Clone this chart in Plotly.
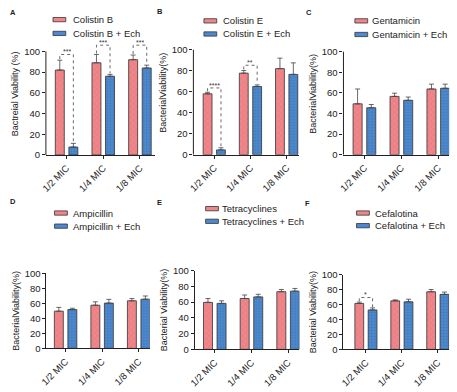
import plotly.graph_objects as go

# ---------------- data ----------------
categories = ["1/2 MIC", "1/4 MIC", "1/8 MIC"]

colistin_b = [82, 89, 92]
colistin_b_err = [9.5, 8, 4.5]
colistin_b_ech = [7.7, 76, 84]
colistin_b_ech_err = [3.5, 1.8, 2.7]

colistin_e = [58, 77.7, 82]
colistin_e_err = [1.5, 2.5, 10]
colistin_e_ech = [4.6, 65, 76.5]
colistin_e_ech_err = [2, 1.5, 11]

gentamicin = [49.4, 56.6, 63.8]
gentamicin_err = [14.4, 3.1, 4.7]
gentamicin_ech = [45.6, 52.8, 64.5]
gentamicin_ech_err = [3.1, 3.2, 4]

ampicillin = [49.6, 57.5, 63.4]
ampicillin_err = [5, 4.5, 3]
ampicillin_ech = [51.7, 60.3, 65.5]
ampicillin_ech_err = [1.8, 5, 4.3]

tetracyclines = [59.7, 64.6, 73.3]
tetracyclines_err = [4.9, 4.5, 2.8]
tetracyclines_ech = [58.4, 66.7, 74]
tetracyclines_ech_err = [3.3, 3.3, 3.4]

cefalotina = [61.7, 65.2, 77.4]
cefalotina_err = [1.8, 1.3, 3]
cefalotina_ech = [53, 63.9, 73.9]
cefalotina_ech_err = [2.7, 3.5, 3.1]

# significance: (group index, label, bracket height)
sig_a = [(0, "***", 97), (1, "***", 106), (2, "***", 106)]
sig_b = [(0, "****", 63.6), (1, "**", 85.2)]
sig_c = []
sig_d = []
sig_e = []
sig_f = [(0, "*", 69.7)]

y_ticks = [0, 20, 40, 60, 80, 100]

# ---------------- styling / layout config ----------------
W, H = 457, 392
RED = "#f0868a"
BLUE = "#4d89d0"
EDGE = "#333333"
FONT = "Liberation Sans, Arial, sans-serif"

panels = [
    dict(letter="A", name="Colistin B", vals=colistin_b, err=colistin_b_err,
         vals2=colistin_b_ech, err2=colistin_b_ech_err, sig=sig_a,
         title="Bactreial Viability (%)",
         px=(39.5, 150), py0=153.3, py100=46.7, xr=(-0.564, 2.403), ytop=118,
         leg=dict(px0=46.7, tx=66, r1=14, r2=28.2), lab=(6, 7)),
    dict(letter="B", name="Colistin E", vals=colistin_e, err=colistin_e_err,
         vals2=colistin_e_ech, err2=colistin_e_ech_err, sig=sig_b,
         title="BacterialViability(%)",
         px=(189.3, 297), py0=153, py100=45, xr=(-0.577, 2.354), ytop=118,
         leg=dict(px0=200, tx=218, r1=15.3, r2=28.8), lab=(155, 6)),
    dict(letter="C", name="Gentamicin", vals=gentamicin, err=gentamicin_err,
         vals2=gentamicin_ech, err2=gentamicin_ech_err, sig=sig_c,
         title="BacterialViability(%)",
         px=(341.7, 449), py0=153, py100=47, xr=(-0.568, 2.293), ytop=118,
         leg=dict(px0=353.3, tx=370, r1=15.3, r2=29.3), lab=(307, 7)),
    dict(letter="D", name="Ampicillin", vals=ampicillin, err=ampicillin_err,
         vals2=ampicillin_ech, err2=ampicillin_ech_err, sig=sig_d,
         title="BacterialViability(%)",
         px=(40, 145), py0=352.3, py100=275, xr=(-0.526, 2.305), ytop=100,
         leg=dict(px0=48.3, tx=66, r1=213, r2=226.5), lab=(6, 201)),
    dict(letter="E", name="Tetracyclines", vals=tetracyclines, err=tetracyclines_err,
         vals2=tetracyclines_ech, err2=tetracyclines_ech_err, sig=sig_e,
         title="Bacterial Viability(%)",
         px=(190.7, 297), py0=353.3, py100=272.3, xr=(-0.545, 2.309), ytop=100,
         leg=dict(px0=201.7, tx=217, r1=208.5, r2=221.5), lab=(155, 202)),
    dict(letter="F", name="Cefalotina", vals=cefalotina, err=cefalotina_err,
         vals2=cefalotina_ech, err2=cefalotina_ech_err, sig=sig_f,
         title="Bacterial Viability(%)",
         px=(341.7, 449), py0=353.3, py100=276.7, xr=(-0.625, 2.315), ytop=100,
         leg=dict(px0=355, tx=372.5, r1=213, r2=226), lab=(305, 203)),
]

OFF = 0.185
BW = 0.245

fig = go.Figure()
shapes = []
annotations = []
layout_axes = {}

for k, p in enumerate(panels):
    idx = "" if k == 0 else str(k + 1)
    xa, ya = "x" + idx, "y" + idx
    pos = list(range(len(categories)))
    xr_ = [i - OFF for i in pos]
    xb_ = [i + OFF for i in pos]

    common = dict(xaxis=xa, yaxis=ya, width=BW, showlegend=False, cliponaxis=False,
                  hoverinfo="skip")
    fig.add_trace(go.Bar(
        x=xr_, y=p["vals"], name=p["name"],
        marker=dict(color=RED, line=dict(color=EDGE, width=0.8),
                    pattern=dict(shape="x", fgcolor="#d96a6e", size=4, solidity=0.25)),
        error_y=dict(type="data", array=p["err"], arrayminus=[0] * 3, symmetric=False,
                     color="#444", thickness=0.8, width=2.5),
        **common))
    fig.add_trace(go.Bar(
        x=xb_, y=p["vals2"], name=p["name"] + " + Ech",
        marker=dict(color=BLUE, line=dict(color=EDGE, width=0.8),
                    pattern=dict(shape=".", fgcolor="#34679f", size=3, solidity=0.3)),
        error_y=dict(type="data", array=p["err2"], arrayminus=[0] * 3, symmetric=False,
                     color="#444", thickness=0.8, width=2.5),
        **common))

    # domains from pixel positions
    x0p, x1p = p["px"]
    span = p["py0"] - p["py100"]
    ytop_px = p["py0"] - span * p["ytop"] / 100.0
    xdom = [x0p / W, x1p / W]
    ydom = [(H - p["py0"]) / H, (H - ytop_px) / H]

    layout_axes["xaxis" + idx] = dict(
        domain=xdom, anchor=ya, range=list(p["xr"]),
        tickvals=pos, ticktext=categories, tickangle=-45,
        showline=True, linecolor="#222", linewidth=1,
        ticks="outside", ticklen=3, tickcolor="#222", tickwidth=1,
        showgrid=False, zeroline=False,
        tickfont=dict(size=9.5, color="#222", family=FONT))
    top_row = p["ytop"] > 100
    layout_axes["yaxis" + idx] = dict(
        domain=ydom, anchor=xa, range=[0, p["ytop"]],
        tickvals=y_ticks, showline=not top_row, linecolor="#222", linewidth=1,
        ticks="outside", ticklen=3, tickcolor="#222", tickwidth=1,
        showgrid=False, zeroline=False,
        tickfont=dict(size=9.5, color="#222", family=FONT),
        title=dict(text=p["title"], font=dict(size=9, color="#222", family=FONT), standoff=3))
    if top_row:
        shapes.append(dict(type="line", xref=xa + " domain", yref=ya,
                           x0=0, x1=0, y0=0, y1=100,
                           line=dict(color="#222", width=1)))

    # significance brackets
    for (g, label, h) in p["sig"]:
        lx, rx = g - OFF, g + OFF
        ly = p["vals"][g] + p["err"][g] + 1
        ry = p["vals2"][g] + p["err2"][g] + 1
        shapes.append(dict(type="path", xref=xa, yref=ya,
                           path=f"M {lx},{ly} L {lx},{h} L {rx},{h} L {rx},{ry}",
                           line=dict(color="#444", width=0.8, dash="dot")))
        annotations.append(dict(xref=xa, yref=ya, x=g, y=h, text=label, showarrow=False,
                                yanchor="middle", xanchor="center", yshift=3,
                                height=6, valign="top", borderpad=0,
                                font=dict(size=7, color="#333", family=FONT)))

    # manual legend
    lg = p["leg"]
    for row, (txt, col) in enumerate([(p["name"], RED), (p["name"] + " + Ech", BLUE)]):
        cy = lg["r1"] if row == 0 else lg["r2"]
        shapes.append(dict(type="rect", xref="paper", yref="paper",
                           x0=lg["px0"] / W, x1=(lg["px0"] + 13) / W,
                           y0=(H - cy - 2.2) / H, y1=(H - cy + 2.2) / H,
                           fillcolor=col, line=dict(color=EDGE, width=0.8)))
        annotations.append(dict(xref="paper", yref="paper", x=lg["tx"] / W, y=(H - cy) / H,
                                text=txt, showarrow=False, xanchor="left", yanchor="middle",
                                borderpad=0,
                                font=dict(size=9.5, color="#222", family=FONT)))

    # panel letter
    annotations.append(dict(xref="paper", yref="paper", x=p["lab"][0] / W, y=(H - p["lab"][1]) / H,
                            text="<b>" + p["letter"] + "</b>", showarrow=False,
                            xanchor="center", yanchor="middle",
                            font=dict(size=7.5, color="#222", family=FONT)))

fig.update_layout(
    width=W, height=H,
    margin=dict(l=0, r=0, t=0, b=0),
    paper_bgcolor="white", plot_bgcolor="white",
    font=dict(family=FONT, color="#222"),
    shapes=shapes, annotations=annotations,
    **layout_axes)

fig.write_html(
    "out.html",
    config={"displayModeBar": False},
    post_script="document.body.style.margin='0';document.body.style.padding='0';"
                "document.body.style.overflow='hidden';",
)
